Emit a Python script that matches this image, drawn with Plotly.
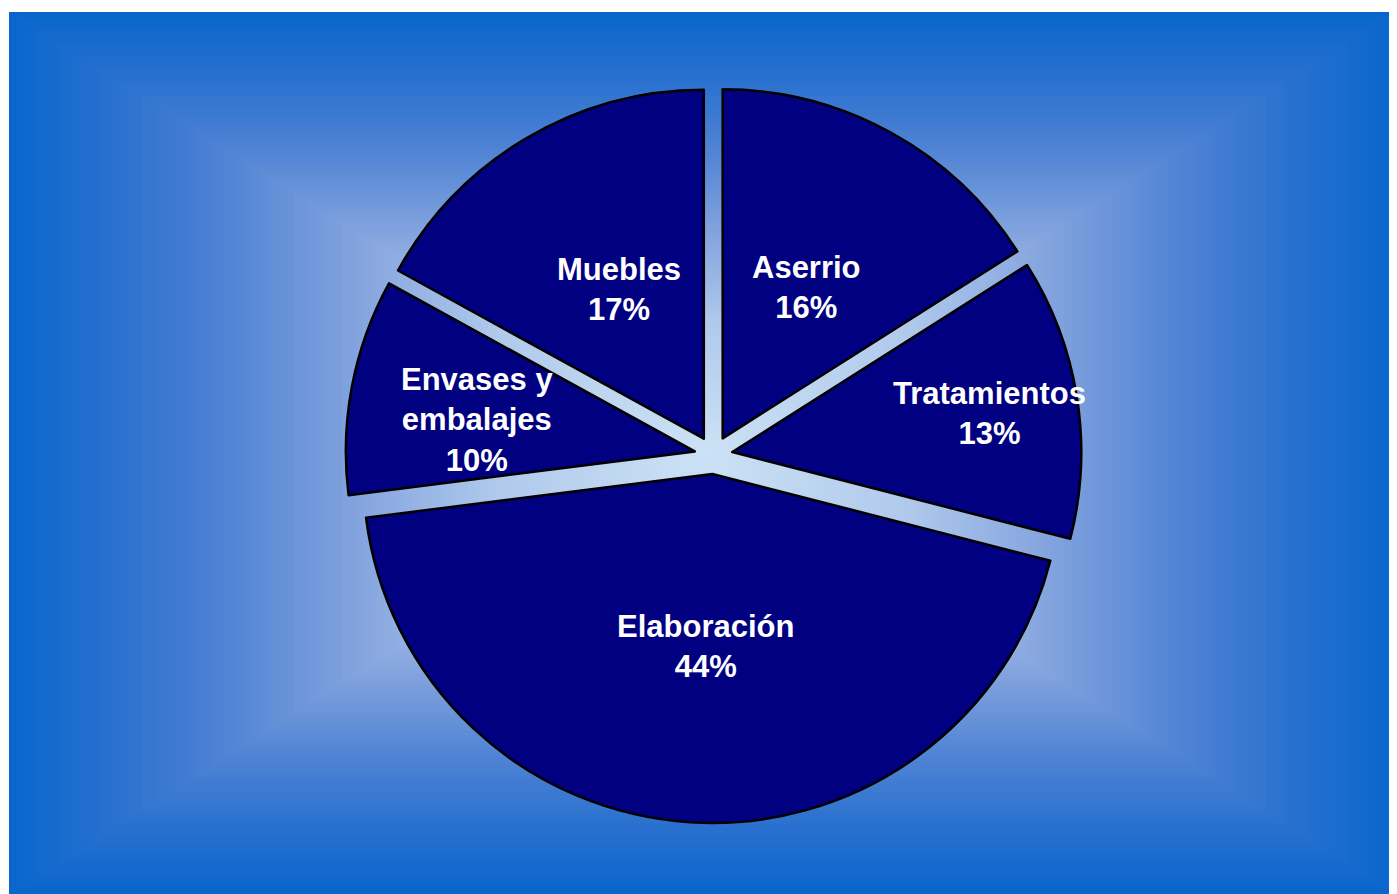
import plotly.graph_objects as go

# ---- data ----
categories = ["Aserrio", "Tratamientos", "Elaboración", "Envases y embalajes", "Muebles"]
shares = [16, 13, 44, 10, 17]
wrapped = {"Envases y embalajes": "Envases y<br>embalajes"}

# ---- layout constants (figure pixel coords; page adds an 8px body margin) ----
W, H = 1389, 886
label_px = [(798, 280), (981, 405), (697, 638), (469, 412), (611, 281)]  # label centers (px)

cx, cy, half = 705.5, 447.0, 368.0
fig = go.Figure()

fig.add_trace(go.Pie(
    labels=categories,
    values=shares,
    sort=False,
    direction="clockwise",
    rotation=0,
    pull=0.0545,
    textinfo="none",
    hoverinfo="label+percent",
    marker=dict(colors=["#000080"] * len(categories), line=dict(color="black", width=2.5)),
    domain=dict(x=[(cx - half) / W, (cx + half) / W],
                y=[1 - (cy + half) / H, 1 - (cy - half) / H]),
    showlegend=False,
))

# background rectangle gradient (concentric rectangles), piecewise colour stops
bx0, by0, bx1, by1 = 1, 4, W, H
gcx, gcy = (bx0 + bx1) / 2, (by0 + by1) / 2
hw, hh = (bx1 - bx0) / 2, (by1 - by0) / 2
stops = [
    (0.0, (205, 226, 245)),
    (0.3, (176, 201, 236)),
    (0.5, (132, 164, 222)),
    (0.7, (78, 130, 212)),
    (0.85, (42, 113, 207)),
    (1.0, (10, 102, 204)),
]


def grad(t):
    for (t0, c0), (t1, c1) in zip(stops[:-1], stops[1:]):
        if t0 <= t <= t1:
            u = (t - t0) / (t1 - t0)
            return tuple(round(c0[k] + (c1[k] - c0[k]) * u) for k in range(3))
    return stops[-1][1]


N = 100
shapes = []
for i in range(N):
    t = 1 - i / N
    c = grad(t)
    x0, x1 = gcx - t * hw, gcx + t * hw
    y0, y1 = gcy - t * hh, gcy + t * hh
    shapes.append(dict(
        type="rect", xref="paper", yref="paper", layer="below",
        x0=x0 / W, x1=x1 / W, y0=1 - y1 / H, y1=1 - y0 / H,
        fillcolor=f"rgb{c}", line=dict(width=0),
    ))

annotations = []
for cat, v, (px, py) in zip(categories, shares, label_px):
    txt = wrapped.get(cat, cat) + f"<br>{v}%"
    annotations.append(dict(
        x=px / W, y=1 - py / H, xref="paper", yref="paper",
        text=txt, showarrow=False, xanchor="center", yanchor="middle",
        font=dict(family="Liberation Sans, Arial, sans-serif", size=31, color="white", weight="bold"),
    ))

fig.update_layout(
    width=W, height=H,
    margin=dict(l=0, r=0, t=0, b=0),
    paper_bgcolor="white",
    plot_bgcolor="white",
    shapes=shapes,
    annotations=annotations,
)

fig.write_html("out.html")
